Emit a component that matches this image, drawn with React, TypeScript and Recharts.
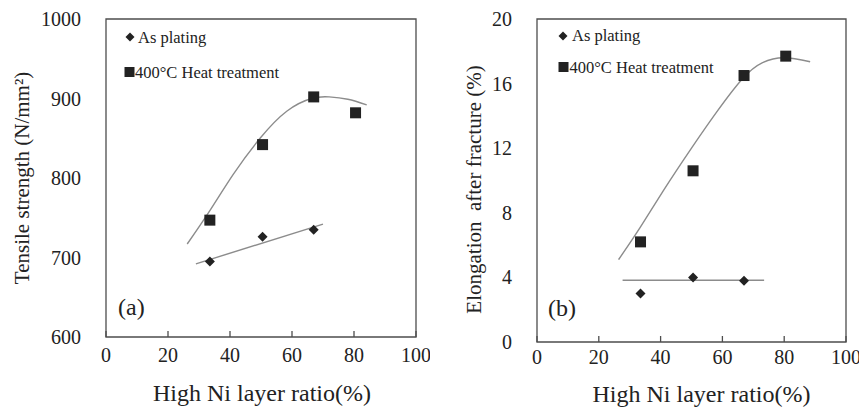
import { ComposedChart, Legend, Line, ReferenceArea, Scatter, XAxis, YAxis } from 'recharts';

const FONT = '"Liberation Serif", "Times New Roman", serif';
const INK = '#222222';
const FRAME = '#4d4d4d';
const FIT = '#8c8c8c';

const X_TICKS = [0, 20, 40, 60, 80, 100];
const TENSILE_TICKS = [600, 700, 800, 900, 1000];
const ELONG_TICKS = [0, 4, 8, 12, 16, 20];
const SERIES_NAMES = ['As plating', '400°C Heat treatment'];

// measured points
const RATIO_PLATING = [33.5, 50.5, 67];
const RATIO_HEAT = [33.5, 50.5, 67, 80.5];
const TENSILE_PLATING = [695, 726, 735];
const TENSILE_HEAT = [747, 842, 902, 882];
const ELONG_PLATING = [3.0, 4.0, 3.8];
const ELONG_HEAT = [6.2, 10.6, 16.5, 17.7];

// trend lines
const TENSILE_LIN_X = [29, 70];
const TENSILE_LIN_Y = [692, 742];
const TENSILE_FIT_X = [26.2, 33.5, 41.1, 49.7, 58.3, 66.3, 72, 78, 84.1];
const TENSILE_FIT_Y = [717, 759, 805, 850, 884, 900, 902, 899, 892];
const ELONG_LIN_X = [27.7, 73.5];
const ELONG_LIN_Y = [3.82, 3.82];
const ELONG_FIT_X = [26.4, 33.4, 41, 50, 58, 66.5, 73, 80, 88.4];
const ELONG_FIT_Y = [5.1, 7.1, 9.4, 12.0, 14.2, 16.3, 17.3, 17.6, 17.35];

type Pt = { x: number; y: number };
const zip = (xs: number[], ys: number[]): Pt[] => xs.map((x, i) => ({ x, y: ys[i] }));

function Diamond({ cx, cy, r }: { cx: number; cy: number; r: number }) {
  return <polygon points={`${cx},${cy - r} ${cx + r},${cy} ${cx},${cy + r} ${cx - r},${cy}`} fill={INK} />;
}

function Square({ cx, cy, s }: { cx: number; cy: number; s: number }) {
  return <rect x={cx - s / 2} y={cy - s / 2} width={s} height={s} fill={INK} />;
}

const makeXTick = (dy: number) => (p: any) => (
  <g>
    <line x1={p.x} x2={p.x} y1={p.y} y2={p.y - 6} stroke={FRAME} strokeWidth={1.3} />
    <text x={p.x} y={p.y + dy} textAnchor="middle" fontFamily={FONT} fontSize={20} fill={INK}>
      {p.payload.value}
    </text>
  </g>
);

const yTick = (p: any) => (
  <text x={p.x - 25} y={p.y + 7} textAnchor="end" fontFamily={FONT} fontSize={20} fill={INK}>
    {p.payload.value}
  </text>
);

type LegendRow = { mx: number; my: number; tx: number; base: number };

type PanelProps = {
  width: number;
  margin: { top: number; right: number; bottom: number; left: number };
  yDomain: [number, number];
  yTicks: number[];
  yTitle: string;
  yTitleX: number;
  yTitleShift: number;
  xTickDy: number;
  xTitleDrop: number;
  xTitleDx: number;
  letter: string;
  letterDx: number;
  letterUp: number;
  plating: Pt[];
  heat: Pt[];
  platingFit: Pt[];
  heatFit: Pt[];
  legend: LegendRow[];
};

function Panel(props: PanelProps) {
  const { width, margin, yDomain, yTicks, legend } = props;
  return (
    <ComposedChart width={width} height={413} margin={margin}>
      <XAxis
        type="number"
        dataKey="x"
        domain={[0, 100]}
        ticks={X_TICKS}
        axisLine={false}
        tickLine={false}
        tickSize={0}
        tickMargin={0}
        height={40}
        tick={makeXTick(props.xTickDy)}
        label={(p: any) => {
          const vb = p.viewBox;
          return (
            <text
              x={vb.x + vb.width / 2 + props.xTitleDx}
              y={vb.y + props.xTitleDrop}
              textAnchor="middle"
              fontFamily={FONT}
              fontSize={24}
              fill={INK}
            >
              High Ni layer ratio(%)
            </text>
          );
        }}
      />
      <YAxis
        type="number"
        domain={yDomain}
        ticks={yTicks}
        axisLine={false}
        tickLine={false}
        tickSize={0}
        tickMargin={0}
        width={60}
        tick={yTick}
        label={(p: any) => {
          const vb = p.viewBox;
          const cx = props.yTitleX;
          const cy = vb.y + vb.height / 2 + props.yTitleShift;
          return (
            <text
              x={cx}
              y={cy}
              transform={`rotate(-90 ${cx} ${cy})`}
              textAnchor="middle"
              dominantBaseline="central"
              fontFamily={FONT}
              fontSize={21}
              fill={INK}
              style={{ whiteSpace: 'pre' }}
            >
              {props.yTitle}
            </text>
          );
        }}
      />
      <ReferenceArea
        x1={0}
        x2={100}
        y1={yDomain[0]}
        y2={yDomain[1]}
        fill="none"
        fillOpacity={0}
        stroke={FRAME}
        strokeWidth={1.3}
        label={(p: any) => {
          const vb = p.viewBox;
          return (
            <text x={vb.x + props.letterDx} y={vb.y + vb.height - props.letterUp} fontFamily={FONT} fontSize={24} fill={INK}>
              {props.letter}
            </text>
          );
        }}
      />
      <Line
        data={props.platingFit}
        dataKey="y"
        type="linear"
        stroke={FIT}
        strokeWidth={1.4}
        dot={false}
        activeDot={false}
        legendType="none"
        isAnimationActive={false}
      />
      <Line
        data={props.heatFit}
        dataKey="y"
        type="natural"
        stroke={FIT}
        strokeWidth={1.4}
        dot={false}
        activeDot={false}
        legendType="none"
        isAnimationActive={false}
      />
      <Scatter
        name={SERIES_NAMES[0]}
        data={props.plating}
        dataKey="y"
        isAnimationActive={false}
        shape={(p: any) => <Diamond cx={p.cx} cy={p.cy} r={5} />}
      />
      <Scatter
        name={SERIES_NAMES[1]}
        data={props.heat}
        dataKey="y"
        isAnimationActive={false}
        shape={(p: any) => <Square cx={p.cx} cy={p.cy} s={11} />}
      />
      <Legend
        verticalAlign="middle"
        align="center"
        wrapperStyle={{ left: 0, top: 0, width: width, height: 100 }}
        content={() => (
          <svg width={width} height={100} style={{ position: 'absolute', left: 0, top: 0 }}>
            {SERIES_NAMES.map((name, i) => {
              const row = legend[i];
              return (
                <g key={name}>
                  {i === 0 ? <Diamond cx={row.mx} cy={row.my} r={4.5} /> : <Square cx={row.mx} cy={row.my} s={10} />}
                  <text x={row.tx} y={row.base} fontFamily={FONT} fontSize={16.5} fill={INK}>
                    {name}
                  </text>
                </g>
              );
            })}
          </svg>
        )}
      />
    </ComposedChart>
  );
}

export default function App() {
  return (
    <div style={{ position: 'absolute', left: 0, top: 0, width: 859, height: 413, background: '#fff' }}>
      <div style={{ position: 'absolute', left: 0, top: 0 }}>
        <Panel
          width={430}
          margin={{ top: 19, right: 14, bottom: 36, left: 46 }}
          yDomain={[600, 1000]}
          yTicks={TENSILE_TICKS}
          yTitle="Tensile strength (N/mm²)"
          yTitleX={22}
          yTitleShift={0}
          xTickDy={25}
          xTitleDrop={64}
          xTitleDx={1}
          letter="(a)"
          letterDx={12}
          letterUp={22}
          plating={zip(RATIO_PLATING, TENSILE_PLATING)}
          heat={zip(RATIO_HEAT, TENSILE_HEAT)}
          platingFit={zip(TENSILE_LIN_X, TENSILE_LIN_Y)}
          heatFit={zip(TENSILE_FIT_X, TENSILE_FIT_Y)}
          legend={[
            { mx: 130, my: 37, tx: 138, base: 43 },
            { mx: 129.5, my: 72, tx: 135, base: 78 },
          ]}
        />
      </div>
      <div style={{ position: 'absolute', left: 430, top: 0 }}>
        <Panel
          width={429}
          margin={{ top: 19, right: 13, bottom: 31, left: 47 }}
          yDomain={[0, 20]}
          yTicks={ELONG_TICKS}
          yTitle={'Elongation  after fracture (%)'}
          yTitleX={44}
          yTitleShift={9}
          xTickDy={22}
          xTitleDrop={60}
          xTitleDx={10}
          letter="(b)"
          letterDx={11}
          letterUp={26}
          plating={zip(RATIO_PLATING, ELONG_PLATING)}
          heat={zip(RATIO_HEAT, ELONG_HEAT)}
          platingFit={zip(ELONG_LIN_X, ELONG_LIN_Y)}
          heatFit={zip(ELONG_FIT_X, ELONG_FIT_Y)}
          legend={[
            { mx: 133, my: 36, tx: 142, base: 41 },
            { mx: 133.5, my: 67, tx: 139.5, base: 73 },
          ]}
        />
      </div>
    </div>
  );
}
